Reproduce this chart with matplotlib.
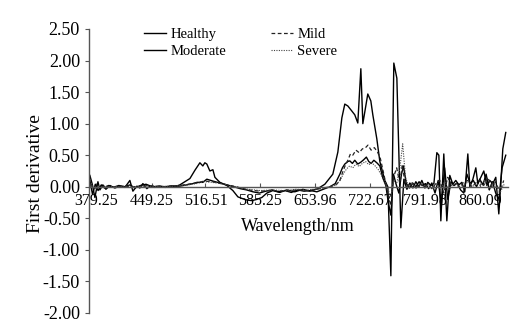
import matplotlib
matplotlib.use("Agg")
import matplotlib.pyplot as plt
import numpy as np

plt.rcParams['font.family'] = 'Liberation Serif'
plt.rcParams['axes.unicode_minus'] = False

# first-derivative spectra for the four infection levels (wavelength in nm)
healthy_nm = [371.7, 374.5, 378.0, 381.8, 384.3, 388.0, 391.8, 396.8, 403.0, 409.3,
              415.6, 421.8, 425.6, 430.6, 434.3, 438.1, 443.1, 446.9, 453.1, 459.4,
              465.7, 471.9, 480.7, 484.4, 490.7, 497.0, 503.2, 509.5, 513.2, 515.7,
              518.2, 522.0, 525.8, 528.3, 534.5, 543.3, 550.8, 557.1, 563.3, 568.3,
              574.6, 580.9, 587.1, 593.4, 600.9, 609.6, 618.4, 628.4, 638.5, 647.2,
              657.2, 666.0, 676.0, 682.3, 687.3, 691.0, 694.8, 699.8, 703.5, 707.3,
              711.1, 713.6, 719.8, 723.6, 726.1, 731.1, 734.9, 741.1, 744.9, 748.7,
              752.4, 756.2, 761.2, 765.0, 768.8, 772.5, 776.3, 780.0, 783.8, 787.5,
              791.3, 795.0, 798.8, 802.6, 806.3, 808.8, 811.3, 815.0, 818.8, 822.5,
              826.3, 830.0, 833.8, 837.6, 841.3, 845.1, 847.6, 851.4, 855.1, 857.6,
              861.4, 865.1, 868.9, 872.6, 876.4, 880.1, 883.9, 886.4, 888.9, 892.6]
healthy = [0.18, 0.05, -0.17, 0.08, -0.05, 0.03, -0.04, 0.02, -0.02, 0.01,
           -0.01, 0.10, -0.07, 0.01, -0.02, 0.05, -0.03, 0.01, -0.01, 0.01,
           0.0, 0.01, 0.01, 0.03, 0.08, 0.13, 0.26, 0.38, 0.33, 0.38,
           0.36, 0.25, 0.27, 0.15, 0.07, 0.02, -0.06, -0.16, -0.19, -0.21,
           -0.22, -0.20, -0.17, -0.10, -0.06, -0.09, -0.05, -0.08, -0.04, -0.07,
           -0.03, 0.04, 0.20, 0.55, 1.09, 1.31, 1.28, 1.20, 1.14, 1.01,
           1.87, 1.00, 1.47, 1.36, 1.14, 0.76, 0.40, 0.10, 0.0, -1.41,
           1.96, 1.72, -0.65, 0.12, -0.04, 0.06, -0.02, 0.08, 0.0, 0.10,
           -0.02, 0.07, 0.02, 0.05, 0.54, 0.50, -0.54, 0.52, -0.54, 0.18,
           0.04, 0.10, 0.03, 0.07, -0.08, 0.52, 0.0, 0.12, 0.30, 0.05,
           0.15, 0.25, 0.02, 0.10, 0.05, 0.15, -0.43, 0.05, 0.60, 0.86]

moderate_nm = [371.7, 375.0, 378.5, 382.0, 386.0, 390.0, 395.0, 401.0, 408.0, 415.0,
               422.0, 428.0, 435.0, 442.0, 450.0, 458.0, 466.0, 474.0, 484.4, 493.0,
               500.7, 506.0, 513.2, 518.2, 525.8, 534.5, 543.3, 552.0, 560.0, 568.0,
               576.0, 584.0, 592.0, 600.0, 608.0, 616.0, 624.0, 632.0, 640.0, 648.0,
               656.0, 664.0, 672.3, 679.0, 684.8, 688.0, 691.0, 694.8, 697.3, 700.5,
               703.5, 707.3, 711.1, 714.8, 718.0, 721.0, 724.0, 727.4, 731.1, 734.9,
               738.6, 742.4, 745.5, 748.7, 752.0, 755.0, 758.7, 762.0, 764.5, 768.0,
               772.0, 776.0, 780.0, 784.0, 788.0, 792.0, 796.0, 800.0, 804.0, 808.0,
               812.0, 816.0, 820.0, 824.0, 828.0, 832.0, 836.0, 840.0, 844.0, 848.0,
               852.0, 856.0, 860.0, 864.0, 868.0, 872.0, 876.0, 880.0, 884.0, 888.0,
               892.6]
moderate = [0.10, -0.12, 0.04, -0.06, 0.03, -0.02, 0.02, -0.01, 0.02, 0.0,
            0.03, -0.02, 0.02, 0.04, 0.0, 0.01, -0.01, 0.01, 0.01, 0.03,
            0.05, 0.07, 0.07, 0.12, 0.09, 0.06, 0.03, 0.0, -0.03, -0.05,
            -0.08, -0.10, -0.07, -0.05, -0.08, -0.06, -0.09, -0.05, -0.07, -0.06,
            -0.08, -0.04, 0.0, 0.05, 0.20, 0.30, 0.36, 0.40, 0.41, 0.37,
            0.42, 0.36, 0.39, 0.43, 0.47, 0.40, 0.37, 0.42, 0.38, 0.33,
            0.14, 0.02, -0.25, -0.45, 0.20, 0.05, -0.10, 0.20, 0.33, 0.05,
            -0.02, 0.06, 0.0, 0.08, 0.02, 0.05, -0.03, 0.06, -0.10, 0.10,
            -0.30, 0.30, -0.20, 0.08, 0.02, 0.06, -0.05, -0.10, 0.20, 0.05,
            0.10, 0.0, 0.12, 0.03, 0.20, -0.05, 0.08, -0.10, -0.20, 0.30,
            0.50]

mild_nm = [371.7, 380, 390, 400, 415, 430, 445, 460, 475, 490,
           505, 515, 525, 540, 555, 570, 585, 600, 615, 630,
           645, 660, 672, 680, 684.8, 688, 691, 694.8, 698, 701,
           705, 709, 713, 717, 720, 724, 728, 732, 735.5, 739,
           742.4, 745.5, 748.7, 752, 756, 760, 763, 766.5, 770, 775,
           780, 785, 790, 795, 800, 805, 810, 815, 820, 825,
           830, 835, 840, 845, 850, 855, 860, 865, 870, 875,
           880, 885, 890]
mild = [0.05, -0.03, 0.01, 0.0, 0.01, 0.0, 0.02, 0.0, 0.01, 0.03,
        0.06, 0.09, 0.08, 0.04, 0.0, -0.05, -0.07, -0.06, -0.07, -0.05,
        -0.06, -0.03, 0.0, 0.03, 0.10, 0.22, 0.32, 0.42, 0.52, 0.50,
        0.58, 0.54, 0.60, 0.62, 0.66, 0.58, 0.62, 0.55, 0.45, 0.25,
        0.05, -0.15, -0.30, 0.15, 0.30, 0.05, 0.35, 0.05, 0.02, 0.06,
        -0.02, 0.05, 0.0, 0.04, -0.03, 0.05, 0.10, -0.10, 0.15, 0.0,
        0.05, -0.02, 0.08, 0.10, 0.0, 0.06, 0.10, 0.02, 0.15, 0.0,
        0.08, -0.10, 0.10]

severe_nm = [371.7, 380, 390, 400, 415, 430, 445, 460, 475, 490,
             505, 515, 525, 540, 555, 570, 585, 600, 615, 630,
             645, 660, 672, 680, 685, 689, 693, 697, 701, 705,
             709, 713, 717, 721, 725, 729, 733, 737, 741, 745,
             748.7, 752, 756, 760, 763.5, 767, 771, 776, 781, 786,
             791, 796, 801, 806, 811, 816, 821, 826, 831, 836,
             841, 846, 851, 856, 861, 866, 871, 876, 881, 886,
             891]
severe = [0.03, -0.02, 0.01, 0.0, 0.01, 0.0, 0.01, 0.0, 0.01, 0.02,
          0.05, 0.08, 0.07, 0.04, 0.0, -0.04, -0.06, -0.05, -0.06, -0.04,
          -0.05, -0.03, 0.0, 0.03, 0.10, 0.20, 0.28, 0.33, 0.30, 0.36,
          0.32, 0.37, 0.40, 0.35, 0.38, 0.33, 0.27, 0.18, 0.08, -0.05,
          -0.15, 0.10, 0.05, 0.30, 0.68, 0.15, 0.0, 0.05, -0.02, 0.04,
          0.0, 0.03, -0.04, 0.06, -0.05, 0.10, -0.06, 0.03, 0.05, -0.02,
          0.04, 0.08, 0.0, 0.05, 0.02, 0.10, -0.04, 0.06, 0.0, -0.08,
          0.05]

tick_nm = [379.25, 449.25, 516.51, 585.25, 653.96, 722.67, 791.98, 860.09]
tick_labels = ['379.25', '449.25', '516.51', '585.25', '653.96', '722.67', '791.98', '860.09']
y_ticks = [-2.0, -1.5, -1.0, -0.5, 0.0, 0.5, 1.0, 1.5, 2.0, 2.5]

fig = plt.figure(figsize=(5.23, 3.22), dpi=100)
ax = fig.add_axes([0.170, 0.028, 0.801, 0.882])

ax.plot(healthy_nm, healthy, color='black', lw=1.0, label='Healthy')
ax.plot(moderate_nm, moderate, color='black', lw=1.0, label='Moderate')
ax.plot(mild_nm, mild, color='#222222', lw=0.9, dashes=(3, 2), label='Mild')
ax.plot(severe_nm, severe, color='#444444', lw=0.8, dashes=(1, 1.2), label='Severe')

ax.set_xlim(370.5, 895.2)
ax.set_ylim(-2.0, 2.5)

for side in ['top', 'right']:
    ax.spines[side].set_visible(False)
ax.spines['bottom'].set_position(('data', 0))
for side in ['left', 'bottom']:
    ax.spines[side].set_color('#555555')
    ax.spines[side].set_linewidth(1.0)

ax.set_xticks(tick_nm)
ax.set_xticklabels(tick_labels)
ax.set_yticks(y_ticks)
ax.set_yticklabels(['%.2f' % v for v in y_ticks])
ax.tick_params(axis='x', direction='in', length=3, pad=4.3, labelsize=11.5, color='#555555')
ax.tick_params(axis='y', direction='out', length=3, pad=3.5, labelsize=13, color='#555555')

ax.set_xlabel('Wavelength/nm', fontsize=13)
ax.xaxis.set_label_coords(0.499, 0.335)
fig.text(35 / 523, 1 - 174 / 322, 'First derivative', rotation=90,
         ha='center', va='center', fontsize=14)

ax.legend(ncol=2, loc='upper left', bbox_to_anchor=(144 / 523, 1 - 28 / 322),
          bbox_transform=fig.transFigure, frameon=False, fontsize=10.5,
          borderpad=0, borderaxespad=0, handlelength=1.5, handletextpad=0.3,
          columnspacing=3.1, labelspacing=0.25)

fig.savefig('out.png', dpi=100)
